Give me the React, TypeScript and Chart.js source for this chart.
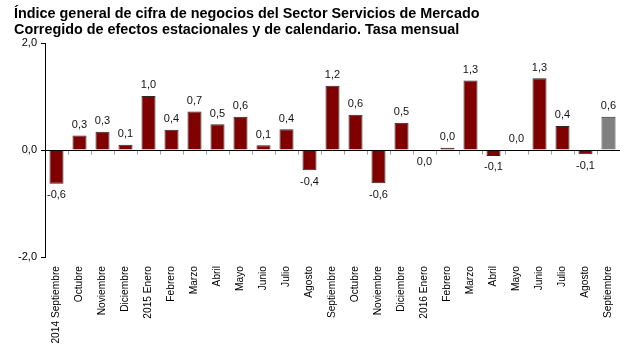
import React, { useEffect, useRef } from 'react';
import { Chart, registerables } from 'chart.js';

Chart.register(...registerables);

const titleLines = [
  'Índice general de cifra de negocios del Sector Servicios de Mercado',
  'Corregido de efectos estacionales y de calendario. Tasa mensual',
];

const categories = [
  '2014 Septiembre', 'Octubre', 'Noviembre', 'Diciembre', '2015 Enero', 'Febrero', 'Marzo', 'Abril',
  'Mayo', 'Junio', 'Julio', 'Agosto', 'Septiembre', 'Octubre', 'Noviembre', 'Diciembre',
  '2016 Enero', 'Febrero', 'Marzo', 'Abril', 'Mayo', 'Junio', 'Julio', 'Agosto', 'Septiembre',
];

const values = [
  -0.63, 0.27, 0.34, 0.1, 1.01, 0.38, 0.72, 0.48, 0.62, 0.09, 0.39, -0.38,
  1.2, 0.66, -0.62, 0.51, -0.01, 0.04, 1.3, -0.11, 0.01, 1.34, 0.45, -0.08, 0.62,
];

const valueLabels = [
  '-0,6', '0,3', '0,3', '0,1', '1,0', '0,4', '0,7', '0,5', '0,6', '0,1', '0,4', '-0,4',
  '1,2', '0,6', '-0,6', '0,5', '0,0', '0,0', '1,3', '-0,1', '0,0', '1,3', '0,4', '-0,1', '0,6',
];

const yTickValues = [-2, 0, 2];
const yTickLabels = ['-2,0', '0,0', '2,0'];

const FONT = '"Liberation Sans", Arial, sans-serif';
const MAROON = '#800000';
const GRAY = '#808080';

const overlayPlugin = {
  id: 'overlay',
  afterDatasetsDraw(chart: any) {
    const { ctx, chartArea } = chart;
    const x = chart.scales.x;
    const y = chart.scales.y;
    const y0 = Math.round(y.getPixelForValue(0)) + 0.5;
    ctx.save();
    // tick marks on zero line at category boundaries
    ctx.strokeStyle = '#9a9a9a';
    ctx.lineWidth = 1;
    for (let i = 1; i < categories.length; i++) {
      const xb = Math.round((x.getPixelForValue(i - 1) + x.getPixelForValue(i)) / 2) + 0.5;
      ctx.beginPath();
      ctx.moveTo(xb, y0);
      ctx.lineTo(xb, y0 + 4);
      ctx.stroke();
    }
    // zero line
    ctx.strokeStyle = '#000';
    ctx.beginPath();
    ctx.moveTo(chartArea.left, y0);
    ctx.lineTo(chartArea.right, y0);
    ctx.stroke();
    // value labels
    ctx.fillStyle = '#111';
    ctx.font = `11px ${FONT}`;
    ctx.textAlign = 'center';
    const meta = chart.getDatasetMeta(0);
    meta.data.forEach((bar: any, i: number) => {
      const v = values[i];
      if (v >= 0) {
        ctx.textBaseline = 'bottom';
        ctx.fillText(valueLabels[i], bar.x, Math.min(bar.y, y0) - 5);
      } else {
        ctx.textBaseline = 'top';
        ctx.fillText(valueLabels[i], bar.x, Math.max(bar.y, y0) + 6);
      }
    });
    ctx.restore();
  },
};

export default function App() {
  const canvasRef = useRef<HTMLCanvasElement | null>(null);

  useEffect(() => {
    document.body.style.margin = '0';
    const canvas = canvasRef.current;
    if (!canvas) return;
    const chart = new Chart(canvas, {
      type: 'bar',
      data: {
        labels: categories,
        datasets: [
          {
            data: values,
            backgroundColor: (c: any) => (c.dataIndex === values.length - 1 ? GRAY : MAROON),
            borderColor: '#2a2a2a',
            borderWidth: 1,
            barPercentage: 1,
            categoryPercentage: 0.61,
          },
        ],
      },
      options: {
        responsive: false,
        animation: false,
        maintainAspectRatio: false,
        layout: { padding: { top: 43, right: 5, bottom: 8, left: 0 } },
        plugins: {
          legend: { display: false },
          title: { display: false },
          tooltip: { enabled: false },
        },
        scales: {
          x: {
            grid: { display: false },
            border: { display: false },
            afterFit: (scale: any) => {
              scale.height = 90;
            },
            ticks: {
              autoSkip: false,
              maxRotation: 90,
              minRotation: 90,
              padding: 1,
              color: '#000',
              font: { family: FONT, size: 10.2 },
            },
          },
          y: {
            min: -2,
            max: 2,
            afterBuildTicks: (scale: any) => {
              scale.ticks = yTickValues.map((v) => ({ value: v }));
            },
            afterFit: (scale: any) => {
              scale.width = 45;
            },
            ticks: {
              callback: (_v: any, i: number) => yTickLabels[i],
              color: '#000',
              padding: 4,
              font: { family: FONT, size: 11 },
            },
            grid: {
              drawOnChartArea: false,
              drawTicks: true,
              tickLength: 4,
              tickColor: '#000',
            },
            border: { display: true, color: '#000', width: 1 },
          },
        },
      },
      plugins: [overlayPlugin],
    });
    return () => chart.destroy();
  }, []);

  return (
    <div style={{ position: 'relative', width: 625, height: 355, background: '#fff' }}>
      <canvas ref={canvasRef} width={625} height={355} style={{ display: 'block' }} />
      <div
        style={{
          position: 'absolute',
          left: 14,
          top: 5,
          fontFamily: FONT,
          fontWeight: 'bold',
          fontSize: 14.4,
          lineHeight: '16px',
          color: '#000',
          whiteSpace: 'nowrap',
        }}
      >
        {titleLines.map((t) => (
          <div key={t}>{t}</div>
        ))}
      </div>
    </div>
  );
}
